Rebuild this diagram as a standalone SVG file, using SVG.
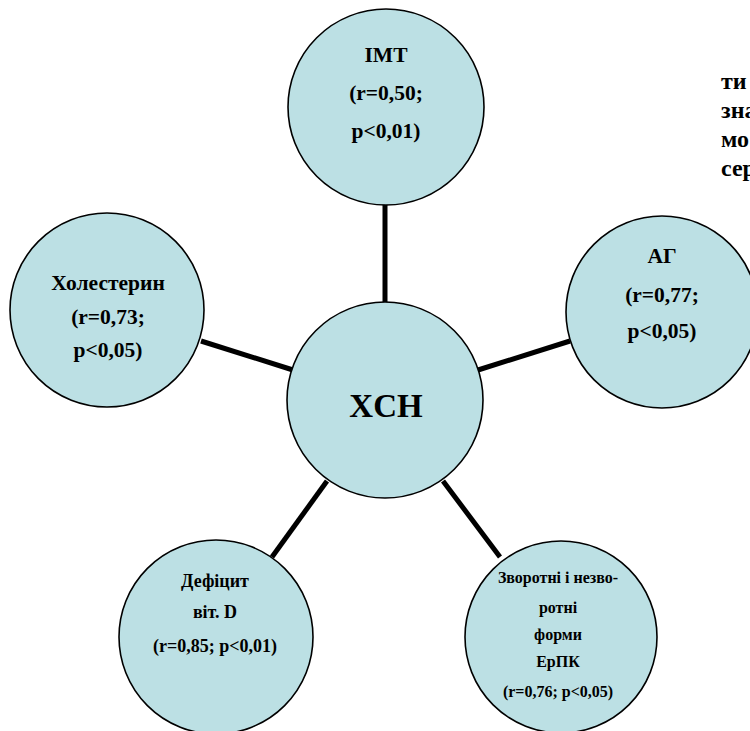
<svg xmlns="http://www.w3.org/2000/svg" width="750" height="731" viewBox="0 0 750 731">
<style>
.n{fill:#bce0e4;stroke:#000;stroke-width:1.6}
.c{stroke:#000;stroke-width:5;stroke-linecap:butt}
text{font-family:"Liberation Serif","Times New Roman",serif;font-weight:bold;fill:#000;text-anchor:middle}
.t20{font-size:21.5px}
.t18{font-size:18px}
.t16{font-size:16px}
.side{font-size:24px;text-anchor:start}
</style>
<rect width="750" height="731" fill="#fff"/>
<g id="sidetext">
<text class="side" x="721" y="89">ти</text>
<text class="side" x="721" y="118">зна</text>
<text class="side" x="721" y="147">мо</text>
<text class="side" x="721" y="176">сер</text>
</g>
<g id="connectors">
<line class="c" x1="385" y1="204" x2="385" y2="304"/>
<line class="c" x1="201" y1="341" x2="293" y2="370"/>
<line class="c" x1="478" y1="370" x2="570" y2="341"/>
<line class="c" x1="327" y1="481" x2="272" y2="557"/>
<line class="c" x1="443" y1="481" x2="500" y2="557"/>
</g>
<g id="node-imt">
<circle class="n" cx="386" cy="107" r="98"/>
<text class="t20" x="386" y="62">IMT</text>
<text class="t20" x="386" y="100">(r=0,50;</text>
<text class="t20" x="386" y="138">p&lt;0,01)</text>
</g>
<g id="node-xch">
<circle class="n" cx="385" cy="400" r="98"/>
<text x="386" y="417" style="font-size:33px">XCH</text>
</g>
<g id="node-chol">
<circle class="n" cx="107" cy="310" r="97"/>
<text class="t20" x="108" y="290">Холестерин</text>
<text class="t20" x="108" y="324">(r=0,73;</text>
<text class="t20" x="108" y="357">p&lt;0,05)</text>
</g>
<g id="node-ag">
<circle class="n" cx="662" cy="312" r="96"/>
<text class="t20" x="662" y="263">АГ</text>
<text class="t20" x="662" y="302">(r=0,77;</text>
<text class="t20" x="662" y="338">p&lt;0,05)</text>
</g>
<g id="node-vitd">
<circle class="n" cx="216" cy="637" r="97"/>
<text class="t18" x="215" y="587">Дефіцит</text>
<text class="t18" x="215" y="618">віт. D</text>
<text class="t18" x="215" y="652">(r=0,85; p&lt;0,01)</text>
</g>
<g id="node-erpk">
<circle class="n" cx="561" cy="637" r="96"/>
<text class="t16" x="558" y="583">Зворотні і незво-</text>
<text class="t16" x="558" y="613">ротні</text>
<text class="t16" x="558" y="640">форми</text>
<text class="t16" x="558" y="667">ЕрПК</text>
<text class="t16" x="558" y="697">(r=0,76; p&lt;0,05)</text>
</g>
</svg>
